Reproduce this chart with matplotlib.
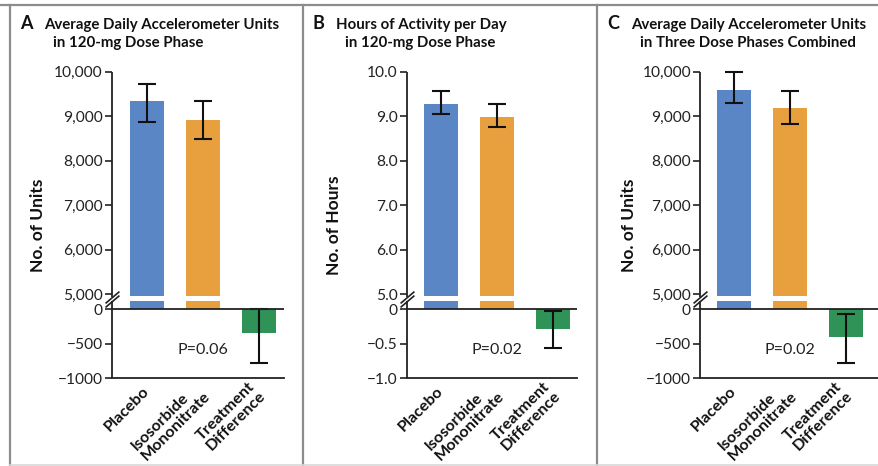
import numpy as np
import matplotlib
matplotlib.use("Agg")
import matplotlib.pyplot as plt
from matplotlib.lines import Line2D

plt.rcParams['font.family'] = ['Lato', 'DejaVu Sans']

# ---------------- data ----------------
categories = ['Placebo', 'Isosorbide\nMononitrate', 'Treatment\nDifference']

a_means = [9340, 8920, -350]
a_lo = [8875, 8490, -780]
a_hi = [9735, 9355, 50]

b_means = [9.28, 8.98, -0.29]
b_lo = [9.06, 8.76, -0.56]
b_hi = [9.56, 9.27, -0.03]

c_means = [9600, 9180, -410]
c_lo = [9300, 8820, -780]
c_hi = [9985, 9560, -70]

units_ticks = [10000, 9000, 8000, 7000, 6000, 5000, 0, -500, -1000]
units_ticklabels = ['10,000', '9,000', '8,000', '7,000', '6,000', '5,000', '0', '\u2212500', '\u22121000']
hours_ticks = [10, 9, 8, 7, 6, 5, 0, -0.5, -1]
hours_ticklabels = ['10.0', '9.0', '8.0', '7.0', '6.0', '5.0', '0', '\u22120.5', '\u22121.0']

p_values = ['P=0.06', 'P=0.02', 'P=0.02']
letters = ['A', 'B', 'C']
title_line1 = ['Average Daily Accelerometer Units', 'Hours of Activity per Day', 'Average Daily Accelerometer Units']
title_line2 = ['in 120-mg Dose Phase', 'in 120-mg Dose Phase', 'in Three Dose Phases Combined']
ylabels = ['No. of Units', 'No. of Hours', 'No. of Units']

colors = ['#5B86C6', '#E8A03F', '#2F9257']

# ---------------- layout ----------------
W, H = 879, 466
fig = plt.figure(figsize=(W / 100, H / 100), dpi=100)

# panel geometry in pixels: left spine, first bar centre, right end, ylabel x, letter x, title x
panels = [
    dict(L=111.7, cx=146.7, R=284.0, ylab=37.5, lx=20.5, tx=44, unit=1000,
         means=a_means, lo=a_lo, hi=a_hi, ticks=units_ticks, tl=units_ticklabels),
    dict(L=406.7, cx=441.0, R=576.7, ylab=334.0, lx=313, tx=336.5, unit=1,
         means=b_means, lo=b_lo, hi=b_hi, ticks=hours_ticks, tl=hours_ticklabels),
    dict(L=700.0, cx=733.7, R=880.0, ylab=629.0, lx=607.5, tx=631, unit=1000,
         means=c_means, lo=c_lo, hi=c_hi, ticks=units_ticks, tl=units_ticklabels),
]
SP = 56.0  # px per category
TOP_PX, ZERO_PX = 71.7, 309.3
UP = 44.5   # px per unit above break
LOW = 68.7  # px per unit below zero
BRK = 15.0  # px between 0 and 5


def make_scale(u):
    def fwd(v):
        v = np.asarray(v, float) / u
        return np.where(v >= 5, BRK + (v - 5) * UP, np.where(v >= 0, v * BRK / 5, v * LOW))

    def inv(s):
        s = np.asarray(s, float)
        return u * np.where(s >= BRK, 5 + (s - BRK) / UP, np.where(s >= 0, s * 5 / BRK, s / LOW))
    return fwd, inv


s_top = BRK + 5 * UP
s_bot = -LOW
ax_h_px = s_top - s_bot
ax_bottom_px = ZERO_PX + LOW  # pixel y of bottom

for i, p in enumerate(panels):
    L, R, cx = p['L'], p['R'], p['cx']
    ax = fig.add_axes([L / W, 1 - ax_bottom_px / H, (R - L) / W, ax_h_px / H])
    fwd, inv = make_scale(p['unit'])
    ax.set_yscale('function', functions=(fwd, inv))
    ax.set_ylim(-1 * p['unit'], 10 * p['unit'])
    ax.set_xlim((L - cx) / SP, (R - cx) / SP)
    x = np.arange(len(categories))
    means = np.array(p['means'])
    err = [means - np.array(p['lo']), np.array(p['hi']) - means]
    ax.bar(x, means, width=34 / SP, color=colors, zorder=2)
    ax.errorbar(x, means, yerr=err, fmt='none', ecolor='#111111', elinewidth=1.5,
                capsize=6.5, capthick=1.5, zorder=4, clip_on=False)
    # white gap through the bars at the axis break
    ax.axhspan(inv(8.6), inv(13.3), color='white', zorder=3, lw=0)
    ax.axhline(0, color='#222222', lw=1.3, zorder=5)

    ax.spines['top'].set_visible(False)
    ax.spines['right'].set_visible(False)
    ax.spines['left'].set_visible(False)
    ax.spines['bottom'].set_color('#222222')
    ax.spines['bottom'].set_linewidth(1.3)
    # broken left spine
    yt = ax.get_yaxis_transform()
    ax.plot([0, 0], [10 * p['unit'], inv(11.8)], transform=yt, color='#222222', lw=1.3,
            clip_on=False, zorder=6, solid_capstyle='butt')
    ax.plot([0, 0], [inv(7.8), -1 * p['unit']], transform=yt, color='#222222', lw=1.3,
            clip_on=False, zorder=6, solid_capstyle='butt')
    ax.plot([0, 0], [inv(11.8), inv(7.8)], transform=yt, linestyle='none',
            marker=[(-1, -0.85), (1, 0.85)], markersize=10, mew=1.2, color='#222222',
            clip_on=False, zorder=6)

    ax.set_yticks(p['ticks'])
    ax.set_yticklabels(p['tl'])
    ax.yaxis.set_minor_locator(matplotlib.ticker.NullLocator())
    ax.tick_params(axis='y', direction='out', length=5, width=1.2, color='#222222',
                   labelsize=11.2, labelcolor='#222222', pad=1.5)
    ax.set_xticks(x)
    ax.set_xticklabels(categories, rotation=45, ha='right', va='center', rotation_mode='anchor',
                       fontweight='bold', fontsize=11.6, multialignment='left', linespacing=1.0)
    ax.tick_params(axis='x', length=0, pad=8, labelcolor='#111111')

    ax.text(1, -0.59 * p['unit'], p_values[i], ha='center', va='center', fontsize=11.5,
            color='#222222')

    # y label
    ax.text((p['ylab'] - L) / (R - L), 0.5, ylabels[i], transform=ax.transAxes, rotation=90,
            ha='center', va='center', fontsize=12.5, fontweight='bold', color='#111111')

    # titles
    fig.text(p['lx'] / W, 1 - 29.3 / H, letters[i], fontsize=13, fontweight='bold',
             ha='left', va='baseline', color='#111111')
    fig.text(p['tx'] / W, 1 - 29.3 / H, title_line1[i], fontsize=10.8, fontweight='bold',
             ha='left', va='baseline', color='#111111')
    fig.text((p['tx'] + 9) / W, 1 - 46.8 / H, title_line2[i], fontsize=10.8, fontweight='bold',
             ha='left', va='baseline', color='#111111')

# panel borders
bc = '#8C8C8C'
def hline(y, x0, x1, c=bc, lw=1.6):
    fig.add_artist(Line2D([x0 / W, x1 / W], [1 - y / H, 1 - y / H], color=c, lw=lw))
def vline(x, y0, y1, c=bc, lw=1.6):
    fig.add_artist(Line2D([x / W, x / W], [1 - y0 / H, 1 - y1 / H], color=c, lw=lw))

hline(4.7, 0, W)
vline(10, 4.7, 466)
vline(302.7, 4.7, 466)
vline(597, 4.7, 466)
hline(464.5, 10, W, c='#D8D8D8', lw=1.2)

fig.savefig('out.png', dpi=100)
